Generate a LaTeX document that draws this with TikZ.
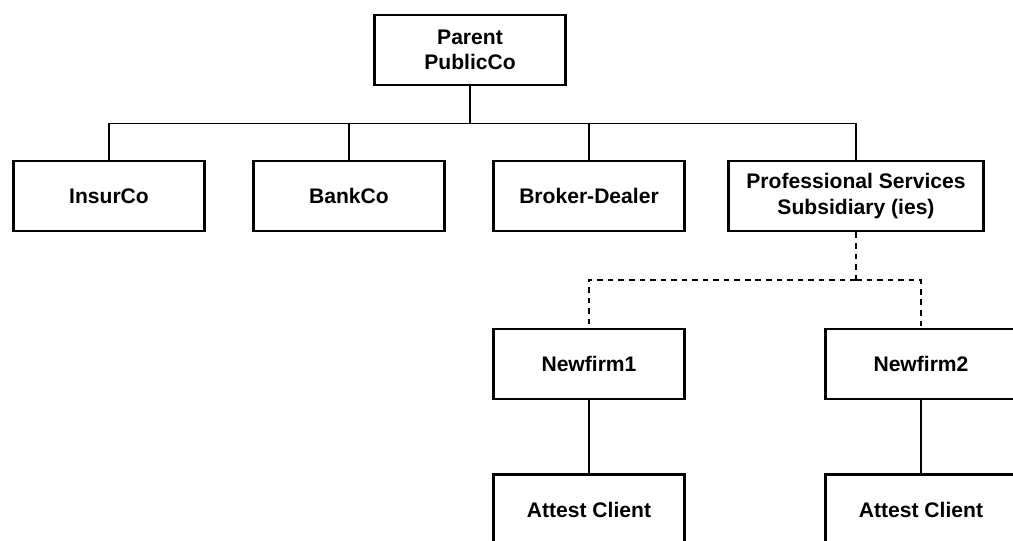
\documentclass[tikz,border=0pt]{standalone}
\usepackage{fontspec}
\setmainfont{Liberation Sans}
\usepackage{tikz}

\begin{document}
\begin{tikzpicture}[
box/.style={rectangle, draw=black, line width=2.1pt, minimum width=4.775cm, minimum height=1.75cm, align=center, font=\fontsize{15}{18}\selectfont\bfseries},
widebox/.style={box, minimum width=6.375cm},
link/.style={line width=1pt},
dlink/.style={line width=1pt, dash pattern=on 4pt off 3.5pt}
]
\useasboundingbox (-11.75,1.25) rectangle (13.575,-12.25);
%Nodes
\node[box]       (parent)                                          {Parent\\PublicCo};
\node[box]       (broker)  [below of =parent, xshift= 2.975cm, yshift= -2.65cm] {Broker-Dealer};
\node[box]       (bank)    [left of =broker, xshift= -5cm]          {BankCo};
\node[box]       (insur)   [left of =bank, xshift= -5cm]            {InsurCo};
\node[widebox]   (prof)    [right of =broker, xshift= 5.675cm]      {Professional Services\\Subsidiary (ies)};
\node[box]       (new1)    [below of =broker, yshift= -3.2cm]       {Newfirm1};
\node[box]       (new2)    [right of =new1, xshift= 7.3cm]          {Newfirm2};
\node[box]       (att1)    [below of =new1, yshift= -2.64cm]        {Attest Client};
\node[box]       (att2)    [below of =new2, yshift= -2.64cm]        {Attest Client};
%Lines
\draw[link] (parent.south) -- ++(0,-0.92) coordinate (bar);
\draw[link] (bar) -| (insur.north);
\draw[link] (bar) -| (bank.north);
\draw[link] (bar) -| (broker.north);
\draw[link] (bar) -| (prof.north);
\draw[dlink] (prof.south) -- ++(0,-1.19) coordinate (dbar);
\draw[dlink] (dbar) -| (new1.north);
\draw[dlink] (dbar) -| (new2.north);
\draw[link] (new1) -- (att1);
\draw[link] (new2) -- (att2);
\end{tikzpicture}
\end{document}
